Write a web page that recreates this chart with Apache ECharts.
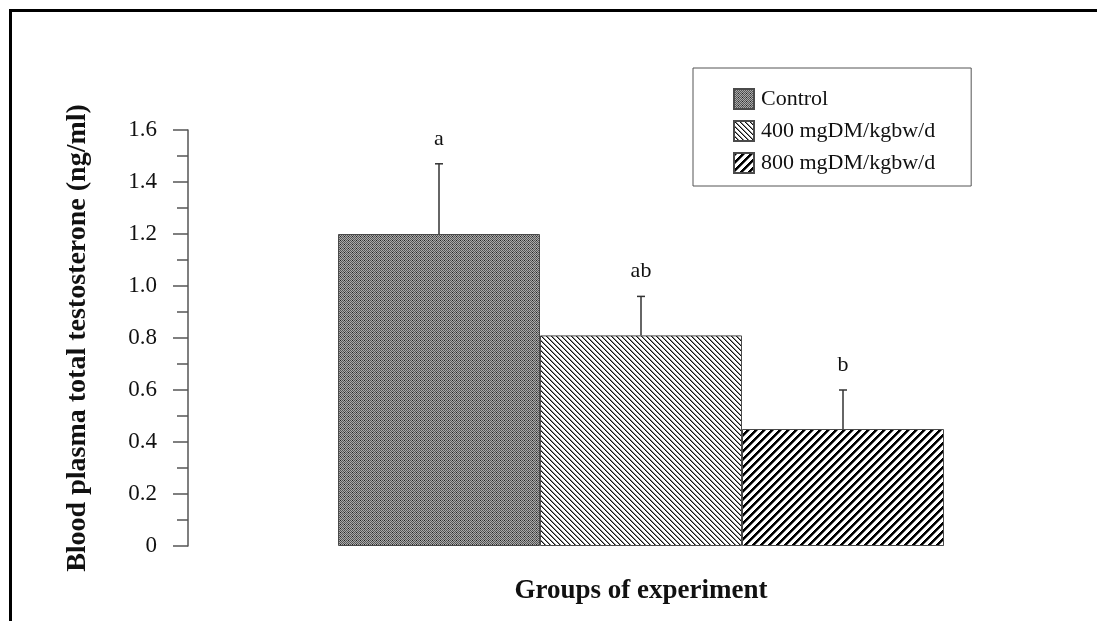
<!DOCTYPE html>
<html>
<head>
<meta charset="utf-8">
<script src="https://cdn.jsdelivr.net/npm/echarts@6/dist/echarts.min.js"></script>
<style>
  html, body { margin: 0; padding: 0; background: #fff; }
  #chart { width: 1097px; height: 621px; }
</style>
</head>
<body>
<div id="chart"></div>
<script>
// Treatment groups and measured plasma testosterone (ng/ml)
const groups = ['Control', '400 mgDM/kgbw/d', '800 mgDM/kgbw/d'];
const means = [1.20, 0.81, 0.45];
const errors = [0.27, 0.15, 0.15];
const letters = ['a', 'ab', 'b'];
const yTicks = [0, 0.2, 0.4, 0.6, 0.8, 1.0, 1.2, 1.4, 1.6];

const SERIF = '"Liberation Serif", "DejaVu Serif", serif';

// Build a repeating fill tile from a per-pixel colour rule
function tile(size, pick) {
  const c = document.createElement('canvas');
  c.width = size; c.height = size;
  const ctx = c.getContext('2d');
  for (let y = 0; y < size; y++) {
    for (let x = 0; x < size; x++) {
      ctx.fillStyle = pick(x, y);
      ctx.fillRect(x, y, 1, 1);
    }
  }
  return { image: c, repeat: 'repeat' };
}

// dotted dark grey, fine "\" hatch, bold "/" hatch
const fills = [
  tile(4, (x, y) => ((x + y) % 2 === 0 ? ((x % 4 === 0 && y % 4 === 0) ? '#222' : '#555') : '#aaa')),
  tile(5, (x, y) => { const k = ((x - y) % 5 + 5) % 5; return k === 0 ? '#111' : (k === 1 ? '#888' : '#fff'); }),
  tile(8, (x, y) => { const k = (x + y) % 8; return k < 3 ? '#000' : (k === 3 ? '#777' : '#fff'); })
];

const barSeries = groups.map((name, i) => ({
  name: name,
  type: 'bar',
  barGap: '-100%',
  barCategoryGap: '0%',
  data: means.map((v, j) => (j === i ? v : '-')),
  itemStyle: { color: fills[i], borderColor: '#4a4a4a', borderWidth: 1 },
  emphasis: { disabled: true },
  z: 2
}));

// Upper error whiskers with significance letters
const whiskerSeries = {
  type: 'custom',
  name: 'whiskers',
  data: means.map((m, i) => [i, m, m + errors[i]]),
  z: 5,
  renderItem: function (params, api) {
    const base = api.coord([api.value(0), api.value(1)]);
    const top = api.coord([api.value(0), api.value(2)]);
    const cap = 4;
    return {
      type: 'group',
      children: [
        { type: 'line', shape: { x1: base[0], y1: base[1], x2: top[0], y2: top[1] },
          style: { stroke: '#333', lineWidth: 1.5 } },
        { type: 'line', shape: { x1: top[0] - cap, y1: top[1], x2: top[0] + cap, y2: top[1] },
          style: { stroke: '#333', lineWidth: 1.5 } },
        { type: 'text', x: top[0], y: top[1] - 25,
          style: { text: letters[params.dataIndex], fill: '#111', font: '22px ' + SERIF,
                   align: 'center', verticalAlign: 'middle' } }
      ]
    };
  }
};

const chart = echarts.init(document.getElementById('chart'), null, { renderer: 'canvas' });
chart.setOption({
  animation: false,
  backgroundColor: '#fff',
  graphic: [{
    type: 'rect',
    shape: { x: 10.5, y: 10.5, width: 1200, height: 1200 },
    style: { fill: 'none', stroke: '#000', lineWidth: 3 },
    silent: true
  }],
  grid: { left: 338, right: 153, top: 130, bottom: 75, containLabel: false },
  legend: {
    data: groups,
    orient: 'vertical',
    left: 693,
    top: 68,
    padding: [20, 36, 12, 40],
    itemWidth: 20,
    itemHeight: 20,
    itemGap: 10,
    icon: 'rect',
    borderColor: '#555',
    borderWidth: 1,
    selectedMode: false,
    textStyle: { fontFamily: SERIF, fontSize: 22, color: '#111', padding: [0, 0, 0, 2] }
  },
  xAxis: {
    type: 'category',
    data: groups,
    name: 'Groups of experiment',
    nameLocation: 'middle',
    nameGap: 32,
    nameTextStyle: { fontFamily: SERIF, fontSize: 27, fontWeight: 'bold', color: '#111' },
    axisLine: { show: false },
    axisTick: { show: false },
    axisLabel: { show: false },
    splitLine: { show: false }
  },
  yAxis: {
    type: 'value',
    min: 0,
    max: 1.6,
    interval: 0.2,
    offset: 150,
    name: 'Blood plasma total testosterone (ng/ml)',
    nameLocation: 'middle',
    nameGap: 96,
    nameTextStyle: { fontFamily: SERIF, fontSize: 28, fontWeight: 'bold', color: '#111' },
    axisLine: { show: true, lineStyle: { color: '#555', width: 1.5 } },
    axisTick: { show: true, length: 15, lineStyle: { color: '#555', width: 1.5 } },
    minorTick: { show: true, splitNumber: 2, length: 11, lineStyle: { color: '#555', width: 1.5 } },
    splitLine: { show: false },
    axisLabel: {
      margin: 31,
      fontFamily: SERIF,
      fontSize: 23,
      color: '#111',
      formatter: v => {
        const t = yTicks.find(k => Math.abs(k - v) < 1e-9);
        if (t === undefined) return '';
        return t === 0 ? '0' : t.toFixed(1);
      }
    }
  },
  series: barSeries.concat([whiskerSeries])
});
</script>
</body>
</html>
